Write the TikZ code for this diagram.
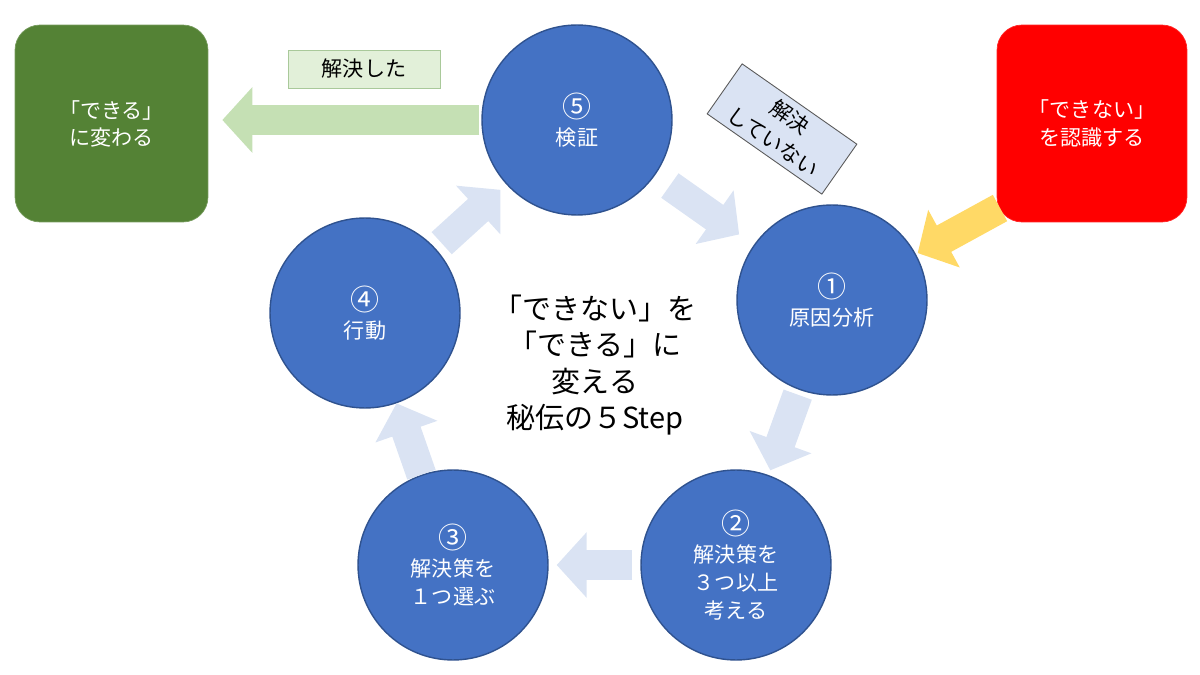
\documentclass[tikz,border=0pt]{standalone}
\usepackage{fontspec}
\setmainfont{Noto Sans CJK JP}
\usetikzlibrary{arrows.meta}
\definecolor{stageblue}{HTML}{4472C4}
\definecolor{stageedge}{HTML}{2F528F}
\definecolor{flowblue}{HTML}{DAE3F3}
\definecolor{donegreen}{HTML}{548235}
\definecolor{donearrow}{HTML}{C5E0B4}
\definecolor{notegreen}{HTML}{E2F0D9}
\definecolor{noteedge}{HTML}{A9C99A}
\definecolor{startarrow}{HTML}{FFD966}
\tikzset{
  stage/.style={
    circle,
    draw=stageedge,
    line width=0.8pt,
    fill=stageblue,
    text=white,
    minimum size=3.8cm,
    inner sep=0pt,
    align=center,
    font=\fontsize{12}{15.9}\selectfont
  },
  goalbox/.style={
    rectangle,
    rounded corners=0.5cm,
    text=white,
    minimum height=3.94cm,
    align=center,
    font=\fontsize{12}{15.4}\selectfont
  },
  note/.style={
    rectangle,
    draw,
    line width=0.5pt,
    align=center,
    inner sep=0pt,
    font=\fontsize{12}{17}\selectfont
  }
}
\tikzstyle{flow} = [line width=0.6cm, -{Triangle[width=1.28cm, length=0.6cm]}]
\def\num#1{{\fontsize{16.5}{15.9}\selectfont #1}}

\begin{document}
\begin{tikzpicture}[x=0.02cm, y=-0.02cm]
    \useasboundingbox (0, 0) rectangle (1200, 675);
    \node[goalbox, fill=donegreen, draw=donegreen!80!white, minimum width=3.86cm] (done) at (111.5, 123.5) {「できる」\\に変わる};
    \node[goalbox, fill=red, draw=red!85!white, minimum width=3.8cm] (start) at (1092, 123.5) {「できない」\\を認識する};
    \node[stage] (s5) at (577, 120) {\num{⑤}\\検証};
    \node[stage] (s1) at (832, 300) {\num{①}\\原因分析};
    \node[stage] (s2) at (736, 565) {\num{②}\\解決策を\\３つ以上\\考える};
    \node[stage] (s3) at (453, 565) {\num{③}\\解決策を\\１つ選ぶ};
    \node[stage] (s4) at (365, 313) {\num{④}\\行動};
    \node[align=center, font=\fontsize{16.5}{20.7}\selectfont] (title) at (595, 365) {「できない」を\\「できる」に\\変える\\秘伝の５Step};
    \node[note, fill=notegreen, draw=noteedge, minimum width=3.04cm, minimum height=0.76cm] (solved) at (364, 69) {解決した};
    \node[note, fill=flowblue, draw=gray!70!black, minimum width=2.8cm, minimum height=1.22cm, rotate=-35] (unsolved) at (782, 129) {解決\\していない};
    \coordinate (startout) at (1000, 208);
    \draw[flow, draw=flowblue, shorten <=18*0.02cm, shorten >=18*0.02cm] (s5) to (s1);
    \draw[flow, draw=flowblue, shorten <=5*0.02cm, shorten >=5*0.02cm] (s1) to (s2);
    \draw[flow, draw=flowblue, shorten <=8*0.02cm, shorten >=8*0.02cm] (s2) to (s3);
    \draw[flow, draw=flowblue] (s3) to (s4);
    \draw[flow, draw=flowblue, shorten <=8*0.02cm, shorten >=8*0.02cm] (s4) to (s5);
    \draw[flow, draw=donearrow, shorten <=2*0.02cm, shorten >=14*0.02cm] (s5.west) to (done.east |- s5.west);
    \draw[flow, draw=startarrow, shorten >=2*0.02cm] (startout) to (s1);
  \end{tikzpicture}
\end{document}
